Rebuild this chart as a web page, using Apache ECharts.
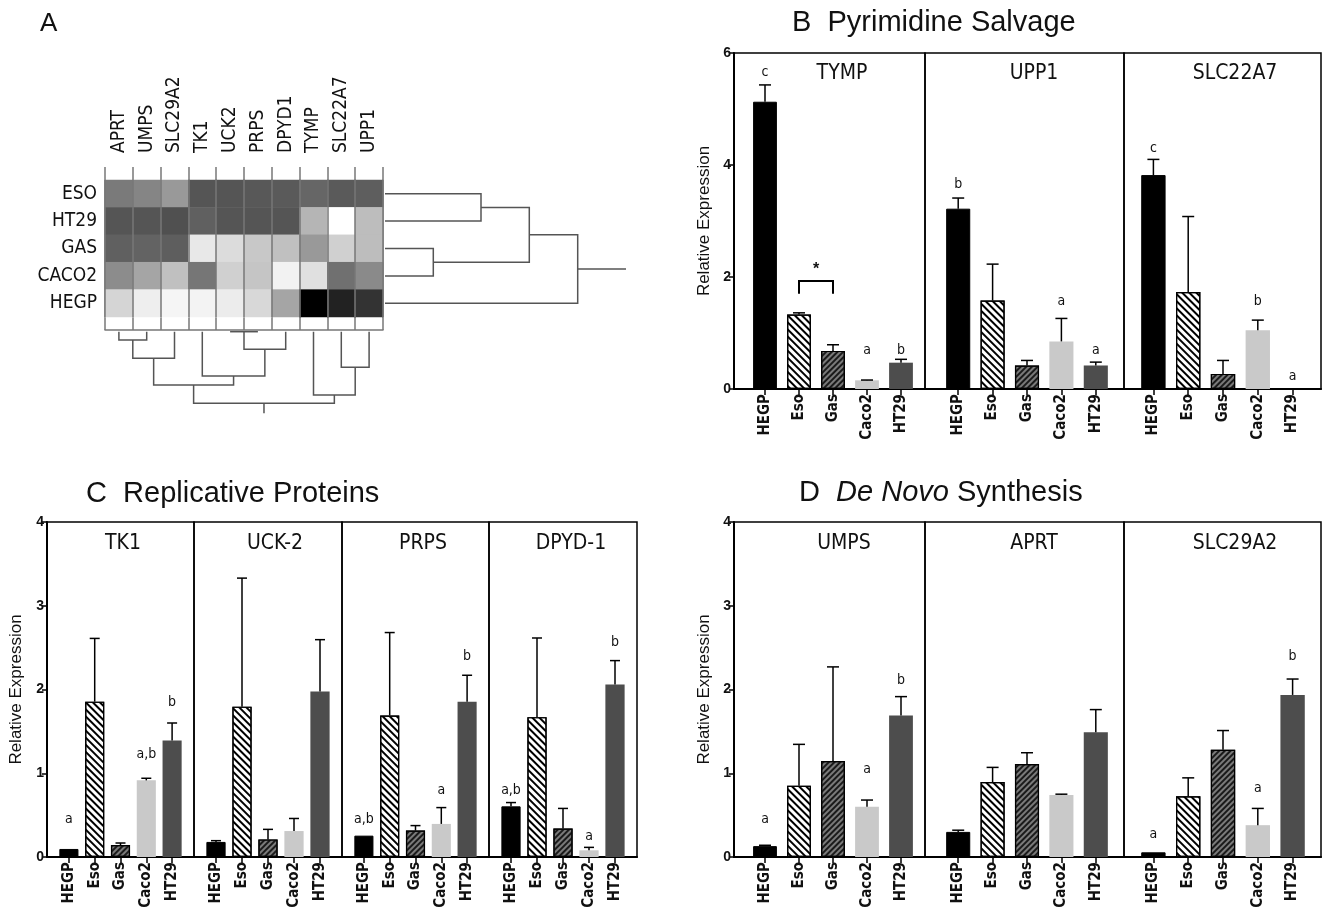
<!DOCTYPE html>
<html><head><meta charset="utf-8">
<script src="https://cdn.jsdelivr.net/npm/echarts/dist/echarts.min.js"></script>
<style>html,body{margin:0;padding:0;background:#fff}#c{width:1327px;height:908px}</style>
</head><body><div id="c"></div>
<script>
// ---------------- DATA ----------------
const cells = ['HEGP', 'Eso', 'Gas', 'Caco2', 'HT29'];

// Panel A heatmap (darkness 0 = white, 255 = black)
const heatGenes = ['APRT', 'UMPS', 'SLC29A2', 'TK1', 'UCK2', 'PRPS', 'DPYD1', 'TYMP', 'SLC22A7', 'UPP1'];
const heatSamples = ['ESO', 'HT29', 'GAS', 'CACO2', 'HEGP'];
const heatESO   = [133, 122, 102, 170, 170, 167, 165, 153, 165, 161];
const heatHT29  = [170, 170, 175, 159, 170, 170, 170, 74, 0, 66];
const heatGAS   = [159, 156, 161, 23, 35, 55, 63, 102, 47, 66];
const heatCACO2 = [115, 90, 63, 137, 47, 58, 13, 31, 143, 117];
const heatHEGP  = [42, 17, 10, 12, 19, 39, 90, 255, 221, 204];
// dendrograms: [childA, childB, distance]; ids >= n are earlier merges
const colLinkage = [[0, 1, 8.3], [10, 2, 26.6], [4, 5, 0], [12, 6, 17.6], [3, 13, 44.3],
                    [11, 14, 53.3], [8, 9, 35.6], [7, 16, 63.3], [15, 17, 71.6]];
const colRootStem = 81.6;
const rowLinkage = [[0, 1, 96], [2, 3, 48.3], [5, 6, 144.3], [7, 4, 192.7]];
const rowRootStem = 241;

// Panel B
const genesB = ['TYMP', 'UPP1', 'SLC22A7'];
const meanB = [[5.13, 1.33, 0.68, 0.155, 0.47], [3.22, 1.58, 0.42, 0.85, 0.42], [3.82, 1.73, 0.27, 1.05, 0]];
const errB  = [[5.43, 1.36, 0.79, 0.16, 0.53], [3.41, 2.23, 0.51, 1.26, 0.48], [4.10, 3.08, 0.51, 1.23, 0]];
const letB  = [['c', '', '', 'a', 'b'], ['b', '', '', 'a', 'a'], ['c', '', '', 'b', 'a']];
const letYB = [[5.66, 0, 0, 0.685, 0.685], [3.65, 0, 0, 1.56, 0.685], [4.29, 0, 0, 1.56, 0.22]];
const bracketB = [1, 2, 1.70, 1.93, 2.19]; // from Eso to Gas, foot, top, star

// Panel C
const genesC = ['TK1', 'UCK-2', 'PRPS', 'DPYD-1'];
const meanC = [[0.096, 1.855, 0.143, 0.915, 1.39], [0.18, 1.795, 0.21, 0.31, 1.975],
               [0.255, 1.69, 0.315, 0.395, 1.855], [0.605, 1.67, 0.34, 0.08, 2.06]];
const errC  = [[0.096, 2.61, 0.167, 0.94, 1.60], [0.195, 3.33, 0.33, 0.46, 2.595],
               [0.255, 2.68, 0.375, 0.59, 2.17], [0.65, 2.615, 0.58, 0.115, 2.345]];
const letC  = [['a', '', '', 'a,b', 'b'], ['', '', '', '', ''], ['a,b', '', '', 'a', 'b'], ['a,b', '', '', 'a', 'b']];
const letYC = [[0.446, 0, 0, 1.23, 1.85], [0, 0, 0, 0, 0], [0.454, 0, 0, 0.79, 2.39], [0.79, 0, 0, 0.247, 2.566]];

// Panel D
const genesD = ['UMPS', 'APRT', 'SLC29A2'];
const meanD = [[0.13, 0.85, 1.145, 0.60, 1.69], [0.30, 0.895, 1.11, 0.74, 1.49], [0.056, 0.725, 1.28, 0.38, 1.935]];
const errD  = [[0.14, 1.345, 2.27, 0.68, 1.915], [0.32, 1.07, 1.245, 0.75, 1.76], [0.056, 0.945, 1.51, 0.58, 2.125]];
const letD  = [['a', '', '', 'a', 'b'], ['', '', '', '', ''], ['a', '', '', 'a', 'b']];
const letYD = [[0.446, 0, 0, 1.044, 2.11], [0, 0, 0, 0, 0], [0.267, 0, 0, 0.825, 2.39]];

// ---------------- STYLE / LAYOUT ----------------
const SANS = "'Liberation Sans', Arial, Helvetica, sans-serif";
const NARROW = "'Liberation Sans Narrow', 'DejaVu Sans Condensed', 'Liberation Sans', sans-serif";
const barStyles = [
  {color: '#000', borderColor: '#000', borderWidth: 1},
  {color: '#fff', borderColor: '#000', borderWidth: 1.2,
   decal: {symbol: 'rect', symbolSize: 1, color: '#000', dashArrayX: [1, 0], dashArrayY: [1.4, 3], rotation: Math.PI / 4}},
  {color: '#7a7a7a', borderColor: '#000', borderWidth: 1.2,
   decal: {symbol: 'rect', symbolSize: 1, color: '#1a1a1a', dashArrayX: [1, 0], dashArrayY: [1.5, 2], rotation: -Math.PI / 4}},
  {color: '#c9c9c9', borderWidth: 0},
  {color: '#4d4d4d', borderWidth: 0}
];

const grid = [], xAxis = [], yAxis = [], series = [], title = [];
function addGrid(l, t, w, h, extra) {
  grid.push(Object.assign({left: l, top: t, width: w, height: h, containLabel: false, outerBoundsMode: 'none'}, extra || {}));
  return grid.length - 1;
}

function errRender(cap) {
  return function (params, api) {
    const i = api.value(0), m = api.value(1), u = api.value(2);
    if (!(u > m + 1e-6)) return null;
    const a = api.coord([i, m]), b = api.coord([i, u]);
    return {type: 'group', children: [
      {type: 'line', shape: {x1: a[0], y1: a[1], x2: b[0], y2: b[1]}, style: {stroke: '#000', lineWidth: 1.5}},
      {type: 'line', shape: {x1: b[0] - cap / 2, y1: b[1], x2: b[0] + cap / 2, y2: b[1]}, style: {stroke: '#000', lineWidth: 1.5}}
    ]};
  };
}

function barPanel(p) {
  for (let g = 0; g < p.genes.length; g++) {
    const fl = p.frames[g], fr = p.frames[g + 1];
    const first = g === 0;
    const fi = addGrid(fl, p.top, fr - fl, p.height, {show: true, borderColor: '#000', borderWidth: 1.5, backgroundColor: 'transparent'});
    xAxis.push({gridIndex: fi, type: 'value', min: 0, max: 1,
      axisLine: {show: true, onZero: false, lineStyle: {color: '#000', width: 2}},
      axisTick: {show: false}, axisLabel: {show: false}, splitLine: {show: false}});
    yAxis.push({gridIndex: fi, type: 'value', min: 0, max: p.ymax, interval: p.yint,
      axisLine: {show: first, lineStyle: {color: '#000', width: 2}},
      axisTick: {show: first, length: 5, lineStyle: {color: '#000', width: 1.5}},
      axisLabel: {show: first, fontSize: 14, fontWeight: 'bold', color: '#111', margin: 3, fontFamily: SANS},
      splitLine: {show: false},
      name: first ? 'Relative Expression' : '', nameLocation: 'middle', nameGap: p.nameGap,
      nameTextStyle: {fontSize: 17, color: '#111', fontFamily: SANS}});
    const il = p.inner[g][0], ir = p.inner[g][1];
    const bi = addGrid(il, p.top, ir - il, p.height);
    xAxis.push({gridIndex: bi, type: 'category', data: cells,
      axisLine: {show: false},
      axisTick: {show: true, alignWithLabel: true, length: 6, lineStyle: {color: '#000', width: 1.5}},
      axisLabel: {rotate: 90, margin: 5, fontSize: 15, fontWeight: 'bold', color: '#111', fontFamily: NARROW, interval: 0},
      splitLine: {show: false}});
    yAxis.push({gridIndex: bi, type: 'value', min: 0, max: p.ymax, show: false});
    const xi = xAxis.length - 1, yi = yAxis.length - 1;
    series.push({type: 'bar', xAxisIndex: xi, yAxisIndex: yi, barWidth: p.barW, silent: true,
      data: p.mean[g].map((v, i) => ({value: v, itemStyle: barStyles[i]}))});
    series.push({type: 'custom', xAxisIndex: xi, yAxisIndex: yi, silent: true,
      data: p.mean[g].map((v, i) => [i, v, p.err[g][i]]), renderItem: errRender(p.cap), z: 3});
    const txt = [], pts = [];
    p.letters[g].forEach((t, i) => { if (t) { txt.push(t); pts.push([i, p.letterY[g][i]]); } });
    if (pts.length) {
      series.push({type: 'custom', xAxisIndex: xi, yAxisIndex: yi, silent: true, data: pts, z: 4,
        renderItem: function (params, api) {
          const c = api.coord([api.value(0), api.value(1)]);
          return {type: 'text', x: c[0], y: c[1], style: {text: txt[params.dataIndex], align: 'center', verticalAlign: 'middle',
            textAlign: 'center', textVerticalAlign: 'middle', fontSize: 14, fontFamily: NARROW, fill: '#111'}};
        }});
    }
    if (p.bracket && g === 0) {
      const bk = p.bracket;
      series.push({type: 'custom', xAxisIndex: xi, yAxisIndex: yi, silent: true, data: [bk], z: 4,
        renderItem: function (params, api) {
          const a = api.value(0), b = api.value(1), foot = api.value(2), top = api.value(3), st = api.value(4);
          const p1 = api.coord([a, foot]), p2 = api.coord([a, top]), p3 = api.coord([b, top]), p4 = api.coord([b, foot]);
          const s = api.coord([a, st]);
          return {type: 'group', children: [
            {type: 'polyline', shape: {points: [p1, p2, p3, p4]}, style: {stroke: '#000', lineWidth: 2, fill: null}},
            {type: 'text', x: (p2[0] + p3[0]) / 2, y: s[1] + 3, style: {text: '*', align: 'center', verticalAlign: 'middle',
              textAlign: 'center', textVerticalAlign: 'middle', fontSize: 16, fontWeight: 'bold', fontFamily: SANS, fill: '#111'}}
          ]};
        }});
    }
    title.push({text: p.genes[g], left: p.labelX[g], top: p.labelTop, textAlign: 'center', padding: 0,
      textStyle: {fontSize: 21, fontWeight: 'normal', fontFamily: NARROW, color: '#111'}});
  }
}

barPanel({genes: genesB, mean: meanB, err: errB, letters: letB, letterY: letYB, bracket: bracketB,
  frames: [734, 925, 1124, 1321], inner: [[748, 918], [941, 1113], [1136, 1310]],
  top: 53, height: 336, ymax: 6, yint: 2, labelX: [842, 1034, 1235], labelTop: 63, cap: 12, barW: '70%', nameGap: 21});
barPanel({genes: genesC, mean: meanC, err: errC, letters: letC, letterY: letYC,
  frames: [47, 194, 342, 489, 637], inner: [[56, 185], [203, 333], [351, 480], [498, 628]],
  top: 522, height: 335, ymax: 4, yint: 1, labelX: [123, 275, 423, 571], labelTop: 533, cap: 10, barW: '74%', nameGap: 22});
barPanel({genes: genesD, mean: meanD, err: errD, letters: letD, letterY: letYD,
  frames: [734, 925, 1124, 1321], inner: [[748, 918], [941, 1113], [1136, 1310]],
  top: 522, height: 335, ymax: 4, yint: 1, labelX: [844, 1034, 1235], labelTop: 533, cap: 12, barW: '70%', nameGap: 21});

// ---------------- PANEL A ----------------
const HL = 105, HW = 278;
const gFrame = addGrid(HL, 167, HW, 163);
xAxis.push({gridIndex: gFrame, type: 'category', position: 'top', data: heatGenes,
  axisLine: {show: true, lineStyle: {color: '#777', width: 1.5}}, axisTick: {show: false},
  axisLabel: {rotate: 90, margin: 14, fontSize: 19, fontFamily: NARROW, color: '#111', interval: 0},
  splitLine: {show: true, interval: 0, lineStyle: {color: '#777', width: 1.5}}});
yAxis.push({gridIndex: gFrame, type: 'value', min: 0, max: 1, show: false});

const gHeat = addGrid(HL, 180, HW, 137);
xAxis.push({gridIndex: gHeat, type: 'category', data: heatGenes, z: 5,
  axisLine: {show: false}, axisTick: {show: false}, axisLabel: {show: false},
  splitLine: {show: true, interval: 0, lineStyle: {color: '#777', width: 1.5}}});
yAxis.push({gridIndex: gHeat, type: 'category', data: heatSamples, inverse: true,
  axisLine: {show: false}, axisTick: {show: false},
  axisLabel: {fontSize: 19, fontFamily: NARROW, color: '#111', margin: 8}});
const heatRows = [heatESO, heatHT29, heatGAS, heatCACO2, heatHEGP];
const heatData = [];
heatRows.forEach((row, r) => row.forEach((v, c) => heatData.push([c, r, v])));
const heatSeriesIndex = series.length;
series.push({type: 'heatmap', xAxisIndex: xAxis.length - 1, yAxisIndex: yAxis.length - 1, data: heatData, silent: true, itemStyle: {borderWidth: 0}});

function linkItems(n, linkage, stem) {
  const pos = [], h = [];
  for (let i = 0; i < n; i++) { pos[i] = i; h[i] = 0; }
  const items = [];
  linkage.forEach((m, k) => {
    const a = m[0], b = m[1], d = m[2];
    items.push([pos[a], pos[b], h[a], h[b], d]);
    pos[n + k] = (pos[a] + pos[b]) / 2; h[n + k] = d;
  });
  const root = n + linkage.length - 1;
  items.push([pos[root], pos[root], h[root], h[root], stem]);
  return items;
}
function dendroRender(orient) {
  return function (params, api) {
    const pl = api.value(0), pr = api.value(1), hl = api.value(2), hr = api.value(3), h = api.value(4);
    const pts = orient === 'col'
      ? [api.coord([pl, hl]), api.coord([pl, h]), api.coord([pr, h]), api.coord([pr, hr])]
      : [api.coord([hl, pl]), api.coord([h, pl]), api.coord([h, pr]), api.coord([hr, pr])];
    return {type: 'polyline', shape: {points: pts}, style: {stroke: '#555', lineWidth: 1.5, fill: null}};
  };
}
// column dendrogram (below)
const gColD = addGrid(HL, 331.7, HW, colRootStem);
xAxis.push({gridIndex: gColD, type: 'value', min: -0.5, max: heatGenes.length - 0.5, show: false});
yAxis.push({gridIndex: gColD, type: 'value', min: 0, max: colRootStem, inverse: true, show: false});
series.push({type: 'custom', xAxisIndex: xAxis.length - 1, yAxisIndex: yAxis.length - 1, silent: true,
  data: linkItems(heatGenes.length, colLinkage, colRootStem), renderItem: dendroRender('col')});
// row dendrogram (right)
const gRowD = addGrid(385, 180, rowRootStem, 137);
xAxis.push({gridIndex: gRowD, type: 'value', min: 0, max: rowRootStem, show: false});
yAxis.push({gridIndex: gRowD, type: 'value', min: -0.5, max: heatSamples.length - 0.5, inverse: true, show: false});
series.push({type: 'custom', xAxisIndex: xAxis.length - 1, yAxisIndex: yAxis.length - 1, silent: true,
  data: linkItems(heatSamples.length, rowLinkage, rowRootStem), renderItem: dendroRender('row')});

// ---------------- TITLES ----------------
const TSTYLE = {fontSize: 29, fontWeight: 'normal', color: '#111', fontFamily: SANS};
title.push({text: 'A', left: 40, top: 11, padding: 0, textAlign: 'left', textStyle: {fontSize: 26, fontWeight: 'normal', color: '#111', fontFamily: SANS}});
title.push({text: 'B  Pyrimidine Salvage', left: 792, top: 8, padding: 0, textAlign: 'left', textStyle: TSTYLE});
title.push({text: 'C  Replicative Proteins', left: 86, top: 479, padding: 0, textAlign: 'left', textStyle: TSTYLE});
title.push({text: '{n|D  }{i|De Novo}{n| Synthesis}', left: 799, top: 478, padding: 0, textAlign: 'left',
  textStyle: {fontSize: 29, fontWeight: 'normal', color: '#111', fontFamily: SANS,
    rich: {n: {fontSize: 29, fontWeight: 'normal', fontFamily: SANS, color: '#111'},
           i: {fontSize: 29, fontWeight: 'normal', fontStyle: 'italic', fontFamily: SANS, color: '#111'}}}});

const chart = echarts.init(document.getElementById('c'), null, {renderer: 'canvas'});
chart.setOption({
  animation: false,
  backgroundColor: '#fff',
  textStyle: {fontFamily: SANS},
  title: title, grid: grid, xAxis: xAxis, yAxis: yAxis,
  visualMap: [{type: 'continuous', show: false, min: 0, max: 255, seriesIndex: heatSeriesIndex, inRange: {color: ['#ffffff', '#000000']}}],
  series: series
});
</script></body></html>
